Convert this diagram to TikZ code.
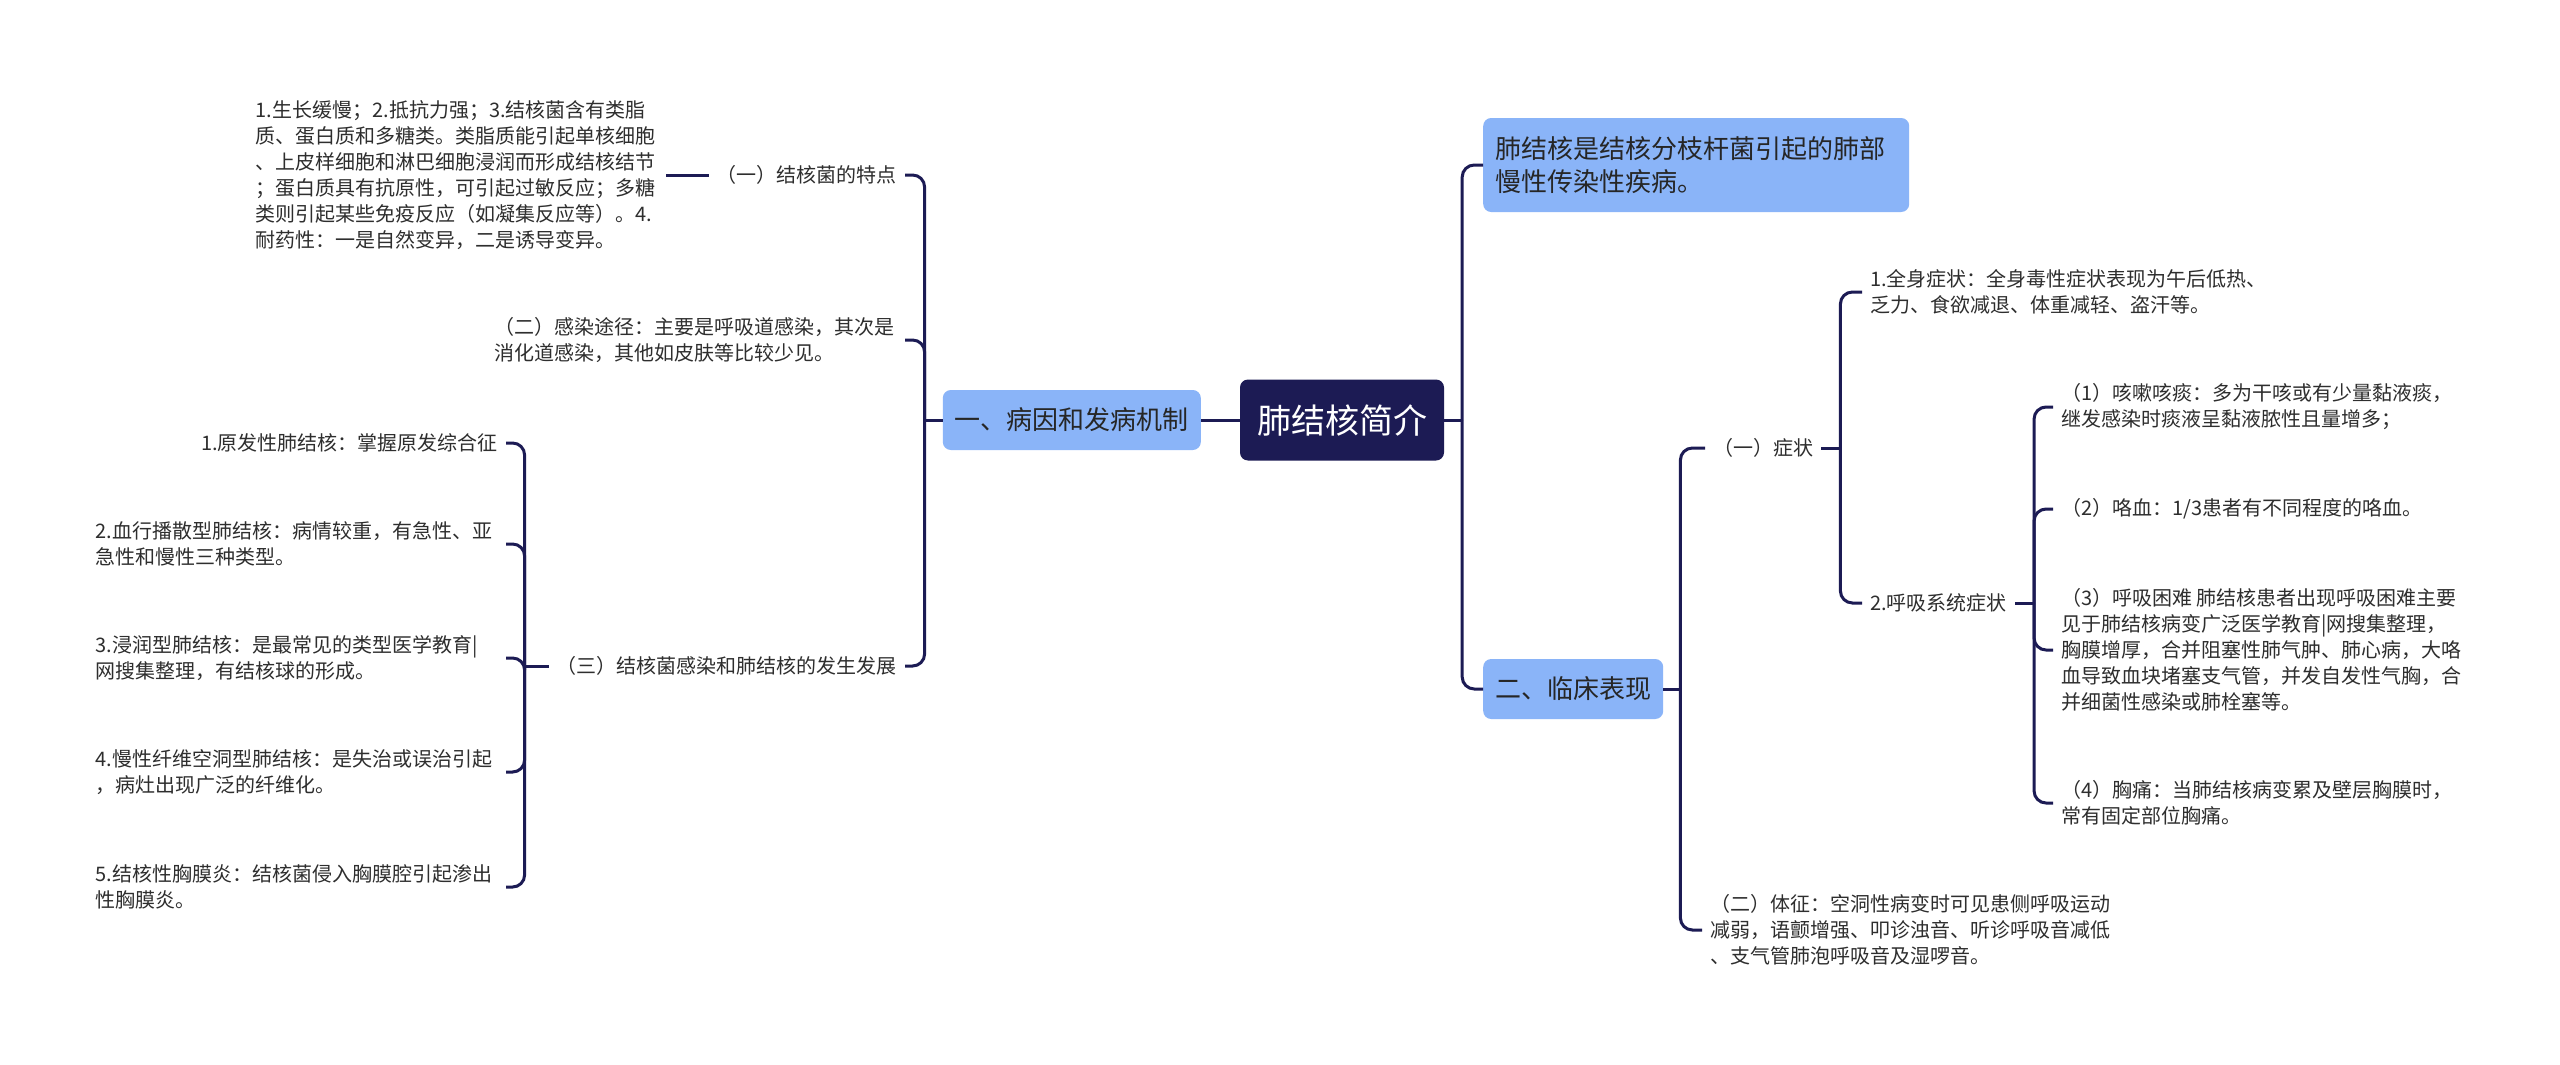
\documentclass[tikz,border=0pt]{standalone}
\usepackage{fontspec}
\setmainfont{Noto Sans CJK SC}
\definecolor{navy}{HTML}{1C1B54}
\definecolor{boxblue}{HTML}{8AB4F8}
\definecolor{inkgray}{HTML}{2E2E2E}
\tikzset{
  note/.style={align=left, inner xsep=8pt, inner ysep=2pt, text=inkgray, font=\fontsize{20}{26}\selectfont},
  widenote/.style={note, text width=402pt},
  branch/.style={fill=boxblue, rounded corners=8pt, inner xsep=12pt, minimum height=60pt, text=black!85, font=\fontsize{26}{33}\selectfont},
  rootbox/.style={fill=navy, rounded corners=8pt, inner xsep=17pt, minimum height=81pt, text=white, font=\fontsize{34}{40}\selectfont},
  conn/.style={draw=navy, line width=3pt},
  link/.style={conn, rounded corners=12pt}
}
\begin{document}
\begin{tikzpicture}[x=1pt, y=-1pt]
  \fill[white] (0,0) rectangle (2560,1065);
  \useasboundingbox (0,0) rectangle (2560,1065);

  \node[rootbox] (root) at (1342,420) {肺结核简介};
  \node[branch, anchor=east] (cause) at (1201,420) {一、病因和发病机制};
  \node[branch, anchor=west, text width=402pt, minimum height=94pt] (summary) at (1483,165) {肺结核是结核分枝杆菌引起的肺部\\慢性传染性疾病。};
  \node[branch, anchor=west] (clinic) at (1483,689) {二、临床表现};

  \node[note, anchor=east] (feat) at (905,175) {（一）结核菌的特点};
  \node[widenote, anchor=east] (featdesc) at (666,175) {1.生长缓慢；2.抵抗力强；3.结核菌含有类脂\\质、蛋白质和多糖类。类脂质能引起单核细胞\\、上皮样细胞和淋巴细胞浸润而形成结核结节\\；蛋白质具有抗原性，可引起过敏反应；多糖\\类则引起某些免疫反应（如凝集反应等）。4.\\耐药性：一是自然变异，二是诱导变异。};
  \node[widenote, anchor=east] (route) at (905,340) {（二）感染途径：主要是呼吸道感染，其次是\\消化道感染，其他如皮肤等比较少见。};
  \node[note, anchor=east] (devel) at (905,666) {（三）结核菌感染和肺结核的发生发展};

  \node[note, anchor=east] (dev1) at (506,443) {1.原发性肺结核：掌握原发综合征};
  \node[widenote, anchor=east] (dev2) at (506,544) {2.血行播散型肺结核：病情较重，有急性、亚\\急性和慢性三种类型。};
  \node[widenote, anchor=east] (dev3) at (506,658) {3.浸润型肺结核：是最常见的类型医学教育|\\网搜集整理，有结核球的形成。};
  \node[widenote, anchor=east] (dev4) at (506,772) {4.慢性纤维空洞型肺结核：是失治或误治引起\\，病灶出现广泛的纤维化。};
  \node[widenote, anchor=east] (dev5) at (506,887) {5.结核性胸膜炎：结核菌侵入胸膜腔引起渗出\\性胸膜炎。};

  \node[note, anchor=west] (symp) at (1705,448) {（一）症状};
  \node[note, anchor=west] (sign) at (1702,930) {（二）体征：空洞性病变时可见患侧呼吸运动\\减弱，语颤增强、叩诊浊音、听诊呼吸音减低\\、支气管肺泡呼吸音及湿啰音。};
  \node[note, anchor=west] (gen) at (1862,292) {1.全身症状：全身毒性症状表现为午后低热、\\乏力、食欲减退、体重减轻、盗汗等。};
  \node[note, anchor=west] (resp) at (1862,603) {2.呼吸系统症状};
  \node[note, anchor=west] (r1) at (2053,407) {（1）咳嗽咳痰：多为干咳或有少量黏液痰，\\继发感染时痰液呈黏液脓性且量增多；};
  \node[note, anchor=west] (r2) at (2053,509) {（2）咯血：1/3患者有不同程度的咯血。};
  \node[note, anchor=west] (r3) at (2053,650) {（3）呼吸困难 肺结核患者出现呼吸困难主要\\见于肺结核病变广泛医学教育|网搜集整理，\\胸膜增厚，合并阻塞性肺气肿、肺心病，大咯\\血导致血块堵塞支气管，并发自发性气胸，合\\并细菌性感染或肺栓塞等。};
  \node[note, anchor=west] (r4) at (2053,803) {（4）胸痛：当肺结核病变累及壁层胸膜时，\\常有固定部位胸痛。};

  \draw[conn] (cause.east) -- (root.west);
  \draw[conn] (root.east) -- ++(18,0) coordinate (jroot);
  \draw[link] (jroot) |- (summary.west);
  \draw[link] (jroot) |- (clinic.west);

  \draw[conn] (cause.west) -- ++(-18,0) coordinate (jcause);
  \draw[link] (jcause) |- (feat.east);
  \draw[link] (jcause) |- (route.east);
  \draw[link] (jcause) |- (devel.east);
  \draw[conn] (featdesc.east) -- (feat.west);
  \draw[conn] (devel.west) -- ++(-24,0) coordinate (jdevel);
  \foreach \i in {1,...,5}
    \draw[link] (jdevel) |- (dev\i.east);

  \draw[conn] (clinic.east) -- ++(17,0) coordinate (jclinic);
  \draw[link] (jclinic) |- (symp.west);
  \draw[link] (jclinic) |- (sign.west);
  \draw[conn] (symp.east) -- ++(19,0) coordinate (jsymp);
  \draw[link] (jsymp) |- (gen.west);
  \draw[link] (jsymp) |- (resp.west);
  \draw[conn] (resp.east) -- ++(19,0) coordinate (jresp);
  \foreach \i in {1,...,4}
    \draw[link] (jresp) |- (r\i.west);
\end{tikzpicture}
\end{document}
